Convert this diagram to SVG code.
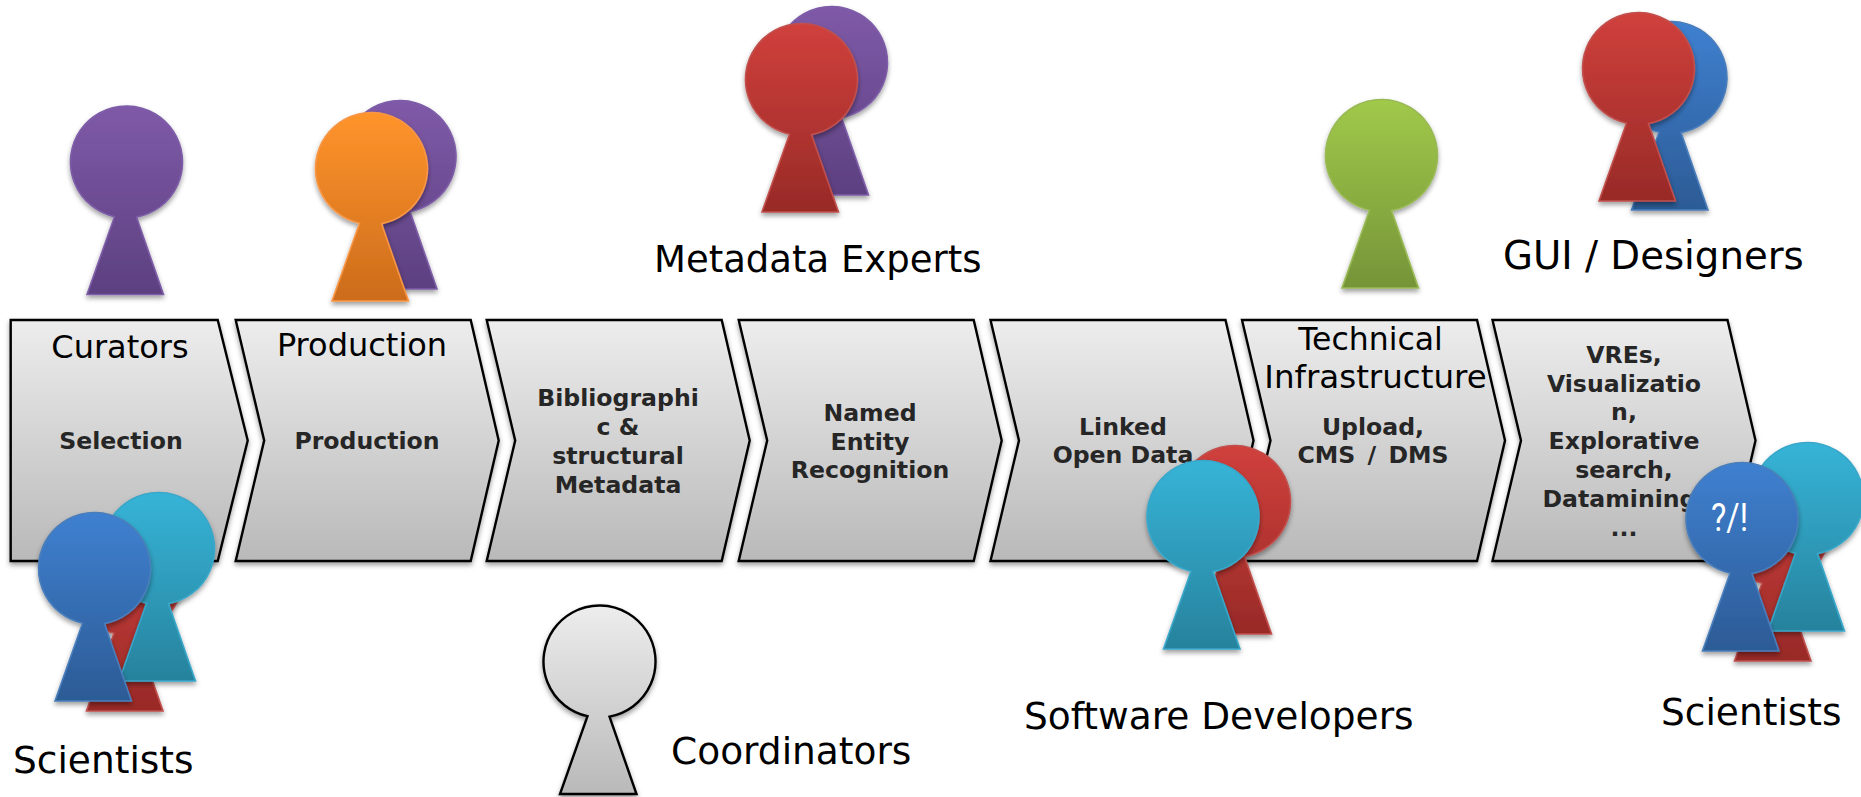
<svg xmlns="http://www.w3.org/2000/svg" width="1861" height="797" viewBox="0 0 1861 797">
<style>
.bg{fill:#fff}
.chev{fill:url(#gGray);stroke:#000;stroke-width:2.4;stroke-linejoin:miter;filter:url(#sh)}
.fig{filter:url(#sh)}
.fig use{stroke-width:1.6;stroke-linejoin:miter}
.purple{fill:url(#gPurple);stroke:#7E5DA8}
.orange{fill:url(#gOrange);stroke:#F79646}
.red{fill:url(#gRed);stroke:#C0504D}
.teal{fill:url(#gTeal);stroke:#39A7C9}
.blue{fill:url(#gBlue);stroke:#4A7EBB}
.green{fill:url(#gGreen);stroke:#98B954}
.fig use.gray{fill:url(#gGrayFig);stroke:#000;stroke-width:2.4}
.lbl{font-family:"DejaVu Sans",Verdana,sans-serif;font-size:37.5px;fill:#000}
.hd{font-family:"DejaVu Sans",Verdana,sans-serif;font-size:32px;fill:#000;text-anchor:middle}
.st{font-family:"DejaVu Sans",Verdana,sans-serif;font-size:23.6px;font-weight:700;fill:#262626;text-anchor:middle}
.q{font-family:Roboto,"Liberation Sans",Arial,sans-serif;font-size:38px;font-weight:400;fill:#fff}
</style>
<defs>
<linearGradient id="gGray" x1="0" y1="0" x2="0" y2="1"><stop offset="0" stop-color="#EDEDED"/><stop offset="1" stop-color="#B9B9B9"/></linearGradient>
<linearGradient id="gGrayFig" x1="0" y1="0" x2="0" y2="1"><stop offset="0" stop-color="#EDEDED"/><stop offset="1" stop-color="#B9B9B9"/></linearGradient>
<linearGradient id="gPurple" x1="0" y1="0" x2="0" y2="1"><stop offset="0" stop-color="#7F5AA8"/><stop offset="1" stop-color="#5C4080"/></linearGradient>
<linearGradient id="gOrange" x1="0" y1="0" x2="0" y2="1"><stop offset="0" stop-color="#FF942B"/><stop offset="1" stop-color="#CC6C1C"/></linearGradient>
<linearGradient id="gRed" x1="0" y1="0" x2="0" y2="1"><stop offset="0" stop-color="#D0403C"/><stop offset="1" stop-color="#982A27"/></linearGradient>
<linearGradient id="gTeal" x1="0" y1="0" x2="0" y2="1"><stop offset="0" stop-color="#36B4D7"/><stop offset="1" stop-color="#27829D"/></linearGradient>
<linearGradient id="gBlue" x1="0" y1="0" x2="0" y2="1"><stop offset="0" stop-color="#3F80D0"/><stop offset="1" stop-color="#2C5B95"/></linearGradient>
<linearGradient id="gGreen" x1="0" y1="0" x2="0" y2="1"><stop offset="0" stop-color="#A1C94A"/><stop offset="1" stop-color="#759438"/></linearGradient>
<filter id="sh" x="-15%" y="-10%" width="130%" height="125%"><feDropShadow dx="0" dy="3" stdDeviation="2.5" flood-color="#000" flood-opacity="0.38"/></filter>
<path id="person" d="M-12,54.700 A56,56 0 1 1 10,55.100 L37,132.500 L-39.500,132.500 Z"/>
<path id="chevF" d="M0,0 H207 L237,120.500 L207,241 H0 Z"/>
<path id="chevN" d="M0,0 H235 L263,120.500 L235,241 H0 L28.500,120.500 Z"/>
</defs>
<rect class="bg" width="1861" height="797"/>
<g id="process">
<g id="step-selection"><use href="#chevF" class="chev" x="10.700" y="320"/><text class="hd" x="120" y="358">Curators</text><text class="st" x="121" y="449">Selection</text></g>
<g id="step-production"><use href="#chevN" class="chev" x="235.700" y="320"/><text class="hd" x="362" y="356">Production</text><text class="st" x="367" y="449">Production</text></g>
<g id="step-metadata"><use href="#chevN" class="chev" x="486.700" y="320"/><text class="st"><tspan x="618" y="406">Bibliographi</tspan><tspan x="618" y="435">c &amp;</tspan><tspan x="618" y="464">structural</tspan><tspan x="618" y="493">Metadata</tspan></text></g>
<g id="step-ner"><use href="#chevN" class="chev" x="738.700" y="320"/><text class="st"><tspan x="870" y="421">Named</tspan><tspan x="870" y="450">Entity</tspan><tspan x="870" y="478">Recognition</tspan></text></g>
<g id="step-lod"><use href="#chevN" class="chev" x="990.500" y="320"/><text class="st"><tspan x="1123" y="435">Linked</tspan><tspan x="1123" y="463">Open Data</tspan></text></g>
<g id="step-upload"><use href="#chevN" class="chev" x="1242" y="320"/><text class="hd"><tspan x="1370.500" y="350" font-size="31.500">Technical</tspan><tspan x="1375.500" y="388" font-size="32.500">Infrastructure</tspan></text><text class="st"><tspan x="1373" y="435">Upload,</tspan><tspan x="1373" y="463" word-spacing="4">CMS / DMS</tspan></text></g>
<g id="step-vre"><use href="#chevN" class="chev" x="1492.500" y="320"/><text class="st"><tspan x="1624" y="363">VREs,</tspan><tspan x="1624" y="392">Visualizatio</tspan><tspan x="1624" y="420">n,</tspan><tspan x="1624" y="449">Explorative</tspan><tspan x="1624" y="478">search,</tspan><tspan x="1624" y="507">Datamining,</tspan><tspan x="1624" y="536">...</tspan></text></g>
</g>
<g id="curators"><g class="fig"><use href="#person" class="purple" x="126.500" y="162"/></g></g>
<g id="production-team"><g class="fig"><use href="#person" class="purple" x="400" y="156.500"/></g><g class="fig"><use href="#person" class="orange" x="371.500" y="168.500"/></g></g>
<g id="metadata-experts"><g class="fig"><use href="#person" class="purple" x="831.500" y="62.500"/></g><g class="fig"><use href="#person" class="red" x="801.500" y="79.500"/></g><text class="lbl" x="654" y="272" style="font-size:37px">Metadata Experts</text></g>
<g id="technical"><g class="fig"><use href="#person" class="green" x="1381.500" y="155.500"/></g></g>
<g id="gui-designers"><g class="fig"><use href="#person" class="blue" x="1671" y="77.500"/></g><g class="fig"><use href="#person" class="red" x="1638.500" y="68.500"/></g><text class="lbl" x="1503" y="269" style="font-size:38.700px">GUI / Designers</text></g>
<g id="scientists-left"><g class="fig"><use href="#person" class="red" x="126" y="578.500"/></g><g class="fig"><use href="#person" class="teal" x="158.500" y="548.500"/></g><g class="fig"><use href="#person" class="blue" x="94.500" y="568.500"/></g><text class="lbl" x="13" y="773">Scientists</text></g>
<g id="coordinators"><g class="fig"><use href="#person" class="gray" x="599.500" y="661.500"/></g><text class="lbl" x="671" y="764">Coordinators</text></g>
<g id="software-developers"><g class="fig"><use href="#person" class="red" x="1234.500" y="501.500"/></g><g class="fig"><use href="#person" class="teal" x="1203" y="516.500"/></g><text class="lbl" x="1024" y="729">Software Developers</text></g>
<g id="scientists-right"><g class="fig"><use href="#person" class="red" x="1774" y="528.500"/></g><g class="fig"><use href="#person" class="teal" x="1807.500" y="498.500"/></g><g class="fig"><use href="#person" class="blue" x="1742" y="518.500"/></g><text class="q" x="1711" y="531" textLength="37" lengthAdjust="spacingAndGlyphs">?/!</text><text class="lbl" x="1661" y="725">Scientists</text></g>
</svg>
